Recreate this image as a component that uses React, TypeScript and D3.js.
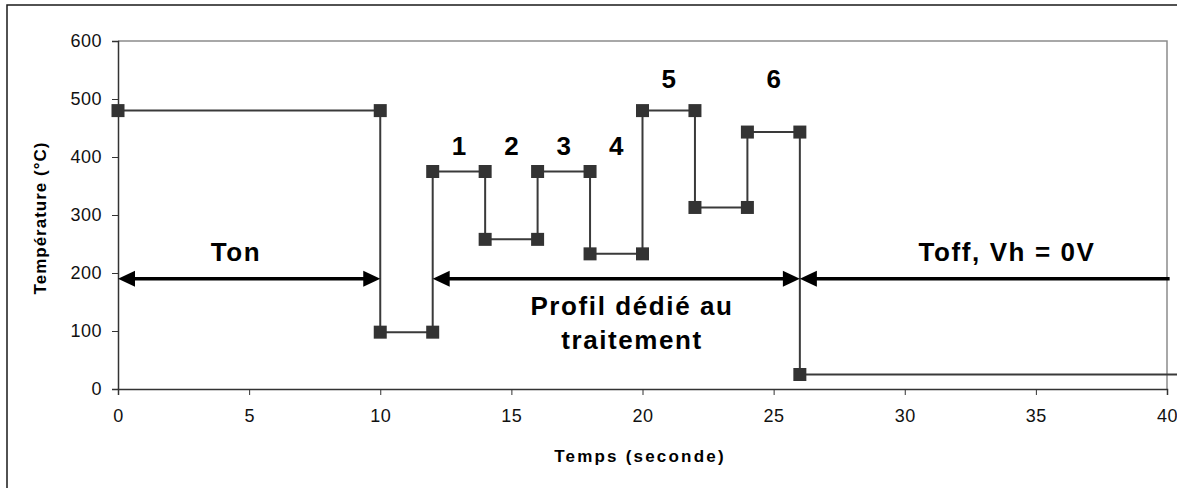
import React, { useEffect, useRef } from "react";
import * as d3 from "d3";

// profil de température (temps en s, température en °C)
const times = [0, 10, 10, 12, 12, 14, 14, 16, 16, 18, 18, 20, 20, 22, 22, 24, 24, 26, 26, 41];
const temps = [480, 480, 98, 98, 375, 375, 258, 258, 375, 375, 233, 233, 480, 480, 313, 313, 443, 443, 25, 25];

const xTicks = [0, 5, 10, 15, 20, 25, 30, 35, 40];
const yTicks = [0, 100, 200, 300, 400, 500, 600];

// flèches (niveau 190 °C)
const arrowLevel = 190;
const arrowStarts = [0, 12, 26];
const arrowEnds = [10, 26, 40.1];
const arrowHeadStart = [true, true, true];
const arrowHeadEnd = [true, true, false];

// numéros des paliers
const stepLabels = ["1", "2", "3", "4", "5", "6"];
const stepX = [13, 15, 17, 19, 21, 25];
const stepY = [403, 403, 403, 403, 519, 519];

// zones
const zoneLabels = [["Ton"], ["Profil dédié au", "traitement"], ["Toff, Vh = 0V"]];
const zoneX = [4.5, 19.6, 33.9];
const zoneY = [220, 128, 220];

const W = 1177;
const H = 488;

const App: React.FC = () => {
  const ref = useRef<SVGSVGElement>(null);

  useEffect(() => {
    if (!ref.current) return;
    const svg = d3.select(ref.current);
    svg.selectAll("*").remove();

    const x = d3.scaleLinear().domain([0, 40]).range([118, 1167]);
    const y = d3.scaleLinear().domain([0, 600]).range([389, 41]);

    svg.append("rect").attr("width", W).attr("height", H).attr("fill", "#fff");

    // cadre extérieur (coupé à droite et en bas)
    svg
      .append("path")
      .attr("d", `M7,${H} L7,5 L${W},5`)
      .attr("fill", "none")
      .attr("stroke", "#1a1a1a")
      .attr("stroke-width", 1.5);

    // bord de la zone de tracé
    svg
      .append("path")
      .attr("d", `M${x(0)},${y(600)} L${x(40)},${y(600)} L${x(40)},${y(0)}`)
      .attr("fill", "none")
      .attr("stroke", "#8c8c8c")
      .attr("stroke-width", 1.5);

    // axe Y
    const yAxis = svg
      .append("g")
      .attr("transform", `translate(${x(0)},0)`)
      .call(d3.axisLeft(y).tickValues(yTicks).tickSize(6).tickPadding(10).tickFormat(d3.format("d")));
    yAxis.select(".domain").attr("stroke", "#333").attr("stroke-width", 1.5);
    yAxis.selectAll(".tick line").attr("stroke", "#333");
    yAxis
      .selectAll(".tick text")
      .attr("fill", "#111")
      .style("font-family", "'Liberation Sans', Arial, sans-serif")
      .style("font-size", "18px")
      .style("letter-spacing", "0.5px");

    // axe X
    const xAxis = svg
      .append("g")
      .attr("transform", `translate(0,${y(0)})`)
      .call(d3.axisBottom(x).tickValues(xTicks).tickSize(6).tickPadding(14).tickFormat(d3.format("d")));
    xAxis.select(".domain").attr("stroke", "#333").attr("stroke-width", 1.5);
    xAxis.selectAll(".tick line").attr("stroke", "#333");
    xAxis
      .selectAll(".tick text")
      .attr("fill", "#111")
      .style("font-family", "'Liberation Sans', Arial, sans-serif")
      .style("font-size", "18px")
      .style("letter-spacing", "0.5px");

    // titres d'axes
    svg
      .append("text")
      .attr("x", 640)
      .attr("y", 462)
      .attr("text-anchor", "middle")
      .style("font-family", "'Liberation Sans', Arial, sans-serif")
      .style("font-size", "17px")
      .style("font-weight", "bold")
      .style("letter-spacing", "2.2px")
      .text("Temps (seconde)");

    svg
      .append("text")
      .attr("transform", `translate(46,${(y(0) + y(600)) / 2 + 3}) rotate(-90)`)
      .attr("text-anchor", "middle")
      .style("font-family", "'Liberation Sans', Arial, sans-serif")
      .style("font-size", "17px")
      .style("font-weight", "bold")
      .style("letter-spacing", "1px")
      .text("Température (°C)");

    // courbe
    const pts: [number, number][] = times.map((t, i) => [t, temps[i]]);
    const line = d3
      .line<[number, number]>()
      .x((d) => x(d[0]))
      .y((d) => y(d[1]));

    svg
      .append("path")
      .datum(pts)
      .attr("d", line)
      .attr("fill", "none")
      .attr("stroke", "#3a3a3a")
      .attr("stroke-width", 2);

    // flèches
    const headL = 17;
    const headW = 8;
    const ay = y(arrowLevel);
    arrowStarts.forEach((s, i) => {
      const x1 = x(s);
      const x2 = x(arrowEnds[i]);
      svg
        .append("line")
        .attr("x1", x1 + (arrowHeadStart[i] ? headL - 2 : 0))
        .attr("x2", x2 - (arrowHeadEnd[i] ? headL - 2 : 0))
        .attr("y1", ay)
        .attr("y2", ay)
        .attr("stroke", "#000")
        .attr("stroke-width", 3.5);
      if (arrowHeadStart[i]) {
        svg
          .append("path")
          .attr("d", `M${x1},${ay} L${x1 + headL},${ay - headW} L${x1 + headL},${ay + headW} Z`)
          .attr("fill", "#000");
      }
      if (arrowHeadEnd[i]) {
        svg
          .append("path")
          .attr("d", `M${x2},${ay} L${x2 - headL},${ay - headW} L${x2 - headL},${ay + headW} Z`)
          .attr("fill", "#000");
      }
    });

    // marqueurs
    const m = 13;
    svg
      .selectAll(".pt")
      .data(pts)
      .enter()
      .append("rect")
      .attr("class", "pt")
      .attr("x", (d) => x(d[0]) - m / 2)
      .attr("y", (d) => y(d[1]) - m / 2)
      .attr("width", m)
      .attr("height", m)
      .attr("fill", "#333");

    // numéros
    svg
      .selectAll(".step")
      .data(stepLabels)
      .enter()
      .append("text")
      .attr("class", "step")
      .attr("x", (d, i) => x(stepX[i]))
      .attr("y", (d, i) => y(stepY[i]))
      .attr("text-anchor", "middle")
      .style("font-family", "'Liberation Sans', Arial, sans-serif")
      .style("font-size", "26px")
      .style("font-weight", "bold")
      .text((d) => d);

    // libellés des zones
    zoneLabels.forEach((lines, i) => {
      lines.forEach((txt, j) => {
        svg
          .append("text")
          .attr("x", x(zoneX[i]))
          .attr("y", y(zoneY[i]) + j * 34)
          .attr("text-anchor", "middle")
          .style("font-family", "'Liberation Sans', Arial, sans-serif")
          .style("font-size", "26px")
          .style("font-weight", "bold")
          .style("letter-spacing", "1.6px")
          .text(txt);
      });
    });
  }, []);

  return (
    <svg
      ref={ref}
      width={W}
      height={H}
      style={{ position: "absolute", left: 0, top: 0, display: "block" }}
    />
  );
};

export default App;
